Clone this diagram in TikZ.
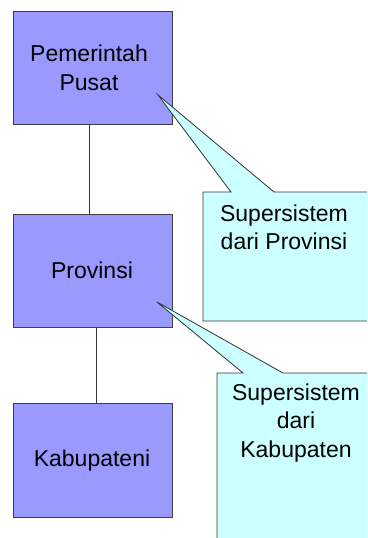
\documentclass[tikz,border=0pt]{standalone}
\usepackage{fontspec}
\setmainfont{Liberation Sans}
\begin{document}
\begin{tikzpicture}[x=1pt,y=-1pt,
  txt/.style={font=\fontsize{23}{28.5}\selectfont, align=center, text=black, inner sep=0pt},
  unitbox/.style={draw=black!75, fill=boxblue, line width=0.9pt},
  callout/.style={draw=black!80, fill=calloutcyan, line width=0.8pt},
  link/.style={draw=black!80, line width=0.9pt}]
\definecolor{boxblue}{HTML}{9999FF}
\definecolor{calloutcyan}{HTML}{CCFFFF}
\useasboundingbox (0,0) rectangle (367,538);
\clip (0,0) rectangle (367,538);
% boxes
\draw[unitbox] (13,11) rectangle (172,124);
\draw[unitbox] (13,214) rectangle (172,327);
\draw[unitbox] (13,403) rectangle (172,517);
\node[txt] (pusat) at (89,68) {Pemerintah\\Pusat};
\node[txt] (prov) at (92,270) {Provinsi};
\node[txt] (kab) at (92,461) {Kabupateni};
\coordinate (b1) at (89,124);
\coordinate (t2) at (89,214);
\coordinate (b2) at (96,327);
\coordinate (t3) at (96,403);
\draw[link] (b1) -- (t2);
\draw[link] (b2) -- (t3);
% callouts
\coordinate (tip1) at (158,95);
\coordinate (tip2) at (157,302);
\draw[callout] (375,192) -- (274,192) -- (tip1) -- (231,192) -- (203,192) -- (203,321) -- (375,321) -- cycle;
\draw[callout] (380,373) -- (283,373) -- (tip2) -- (243,373) -- (217,373) -- (217,545) -- (380,545) -- cycle;
\node[txt] (c1) at (284,227.5) {Supersistem\\dari Provinsi};
\node[txt] (c2) at (296,423) {Supersistem\\dari\\Kabupaten};
\end{tikzpicture}
\end{document}
